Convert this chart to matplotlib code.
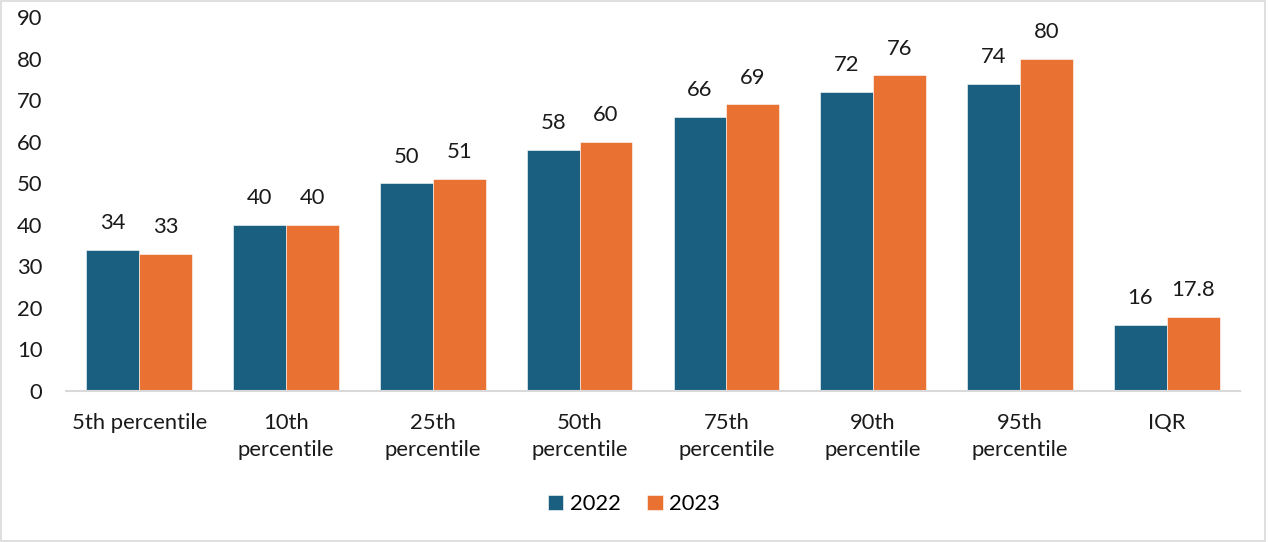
import matplotlib.pyplot as plt
import numpy as np
from matplotlib.patches import Rectangle

plt.rcParams['font.family'] = ['Lato', 'DejaVu Sans']

categories = ['5th percentile', '10th\npercentile', '25th\npercentile', '50th\npercentile',
              '75th\npercentile', '90th\npercentile', '95th\npercentile', 'IQR']
values_2022 = [34, 40, 50, 58, 66, 72, 74, 16]
values_2023 = [33, 40, 51, 60, 69, 76, 80, 17.8]
labels_2022 = ['34', '40', '50', '58', '66', '72', '74', '16']
labels_2023 = ['33', '40', '51', '60', '69', '76', '80', '17.8']

blue = '#1a5f80'
orange = '#e97132'
fs = 15.8

fig = plt.figure(figsize=(12.68, 5.42), dpi=100)
ax = fig.add_axes([0.052, 0.2786, 0.926, 0.69])

x = np.arange(len(categories))
width = 0.36
bars_a = ax.bar(x - width / 2, values_2022, width, color=blue, edgecolor='white', linewidth=0.4, label='2022')
bars_b = ax.bar(x + width / 2, values_2023, width, color=orange, edgecolor='white', linewidth=0.4, label='2023')

# value labels above each bar
for bars, labels in ((bars_a, labels_2022), (bars_b, labels_2023)):
    for bar, text in zip(bars, labels):
        ax.annotate(text, (bar.get_x() + bar.get_width() / 2, bar.get_height()),
                    xytext=(0, 12), textcoords='offset points', ha='center', va='bottom',
                    fontsize=fs, color='#1a1a1a')

ax.set_xlim(-0.5, len(categories) - 0.5)
ax.set_ylim(0, 90)
ax.set_yticks(range(0, 91, 10))
ax.set_xticks(x)
ax.set_xticklabels(categories, fontsize=fs, color='#1a1a1a', linespacing=1.45)
ax.tick_params(axis='y', labelsize=fs, labelcolor='#1a1a1a', length=0, pad=17)
ax.tick_params(axis='x', length=0, pad=16)

for side in ('top', 'right', 'left'):
    ax.spines[side].set_visible(False)
ax.spines['bottom'].set_color('#d9d9d9')
ax.spines['bottom'].set_linewidth(1.5)

fig.legend(handles=[bars_a, bars_b], labels=['2022', '2023'], loc='center', bbox_to_anchor=(0.5, 0.07),
           ncol=2, frameon=False, fontsize=fs, handlelength=0.7, handleheight=0.7,
           handletextpad=0.3, columnspacing=1.2)

fig.patches.append(Rectangle((0.001, 0.002), 0.997, 0.996, transform=fig.transFigure,
                             fill=False, edgecolor='#d9d9d9', linewidth=1.2))

fig.savefig('out.png', dpi=100)
